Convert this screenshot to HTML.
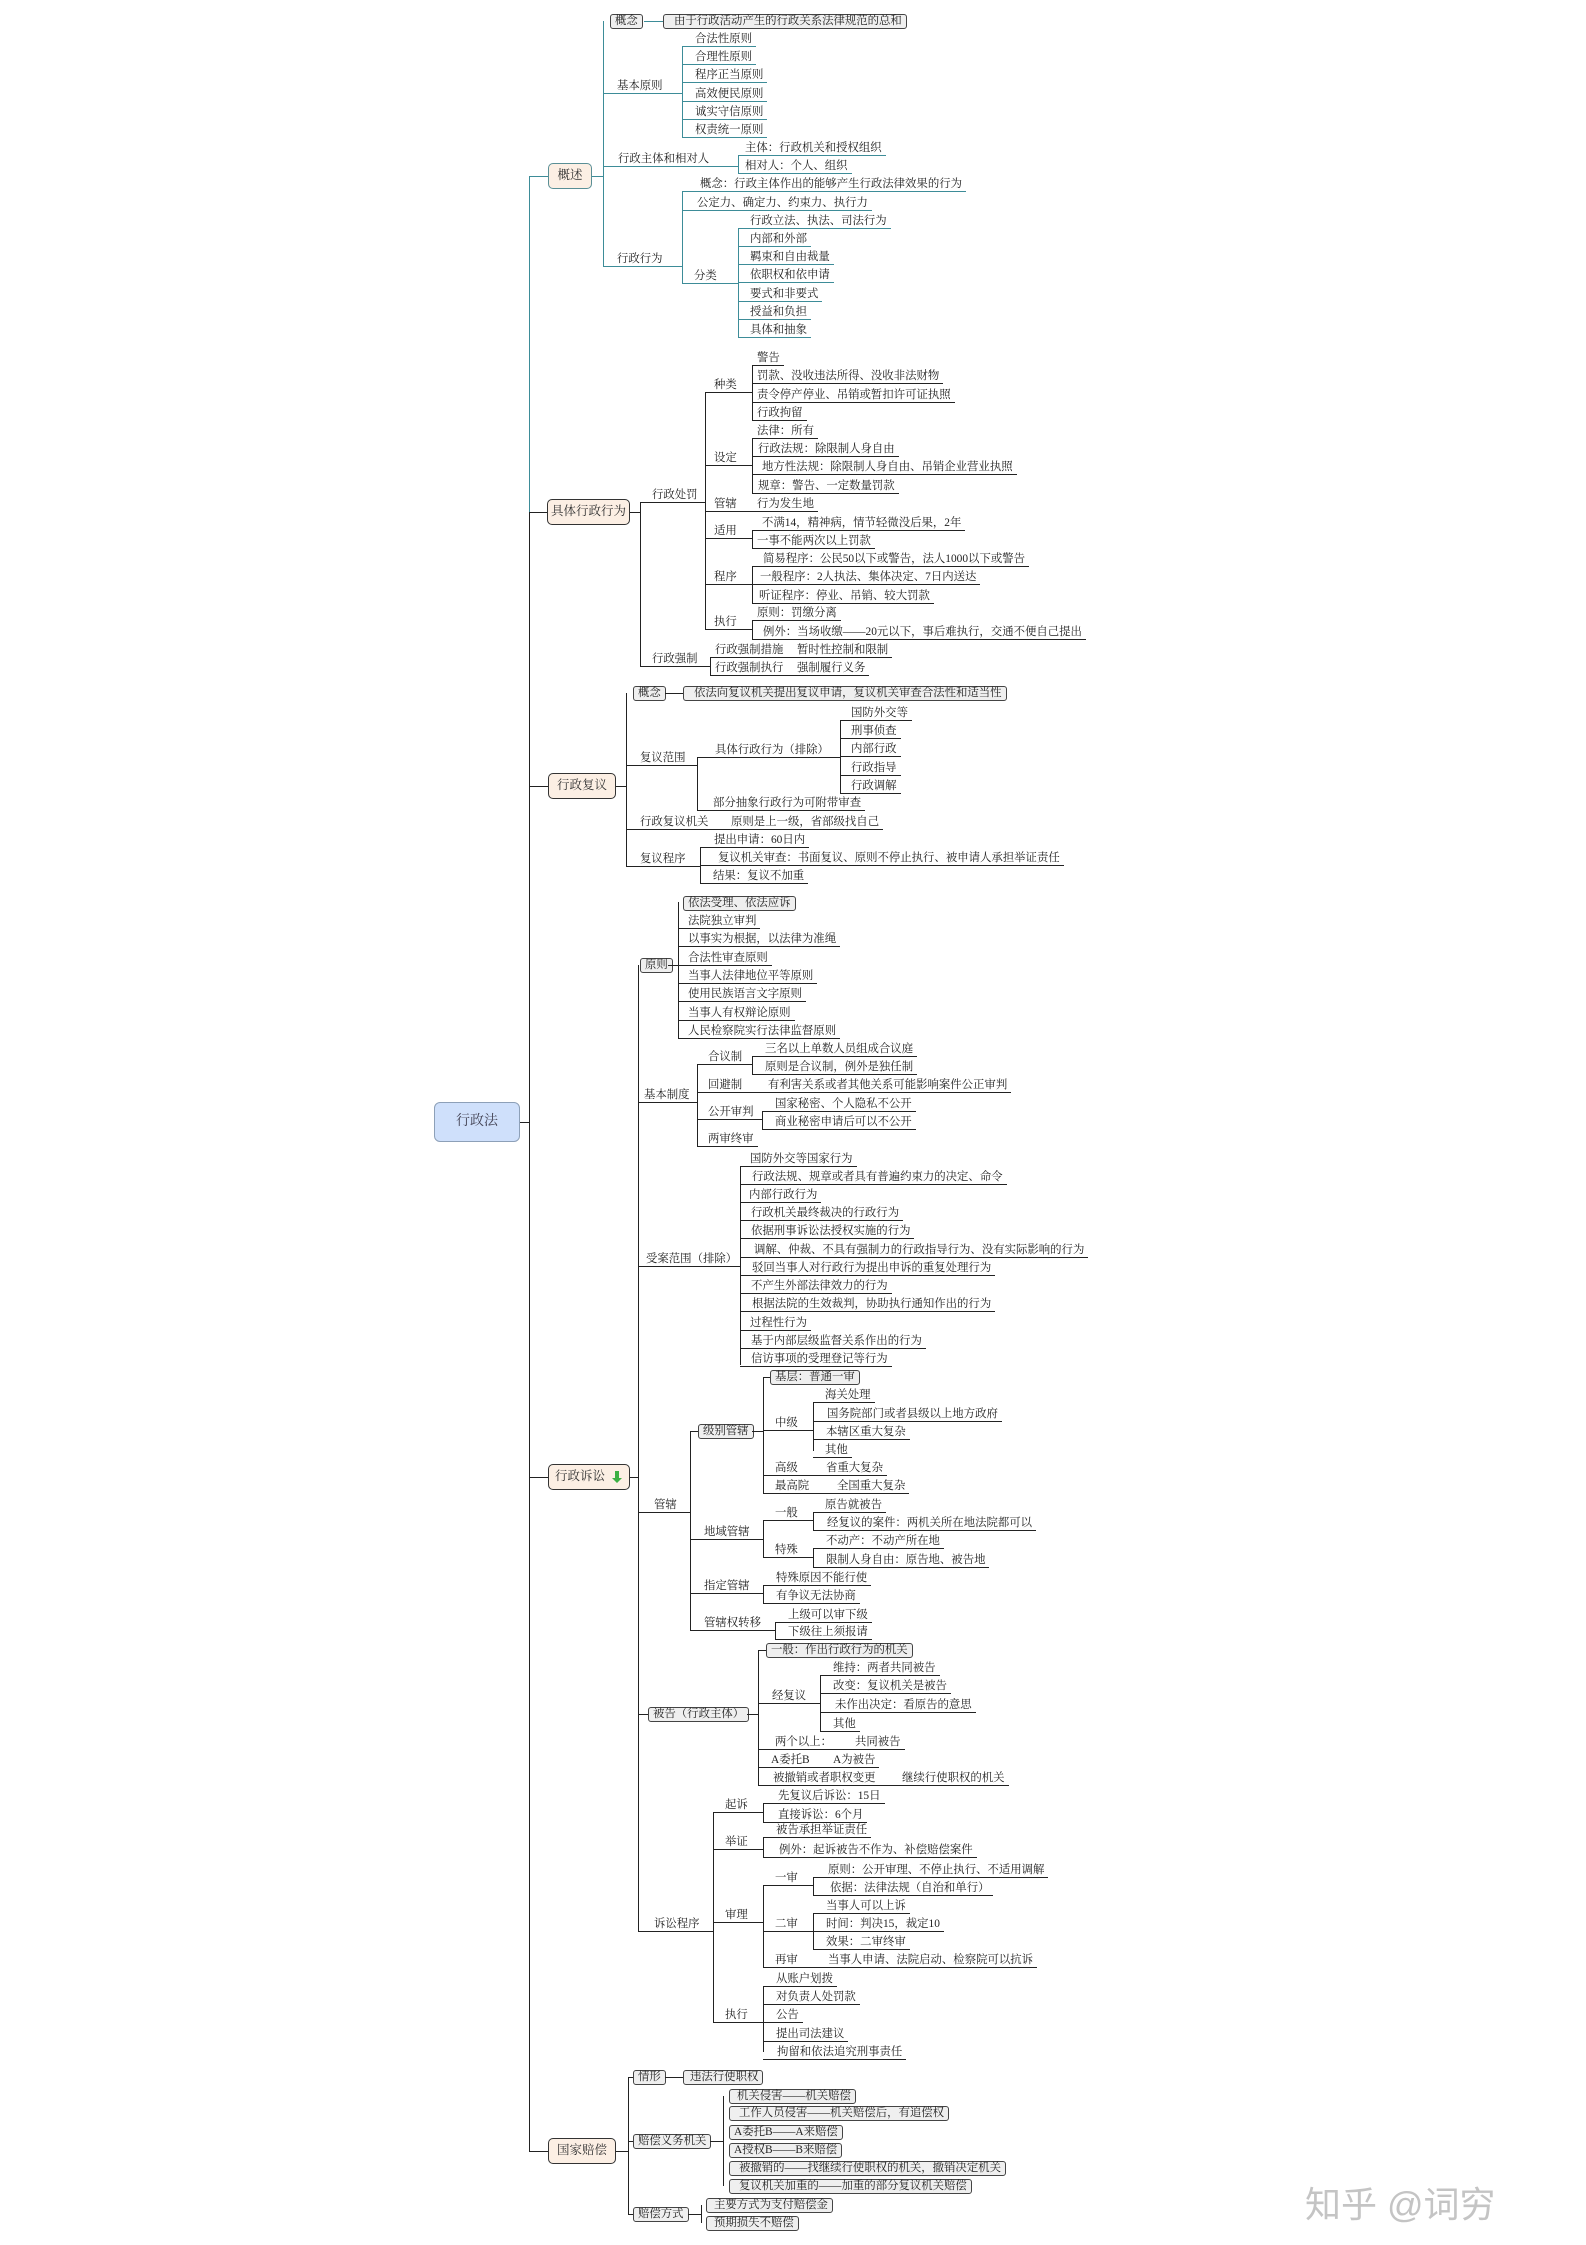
<!DOCTYPE html>
<html><head><meta charset="utf-8">
<style>
html,body{margin:0;padding:0;background:#fff}
#c{position:relative;width:1586px;height:2245px;overflow:hidden;font-family:"Liberation Serif","Noto Serif CJK SC","Noto Sans CJK SC",serif;color:#222}
.n{position:absolute;height:14px;line-height:13px;font-size:11.4px;border-bottom:1px solid #222;white-space:nowrap;padding-right:4px;box-sizing:border-box}
.t{border-color:#3d8c98}
.v{position:absolute;width:0;border-left:1px solid #222}
.vt{border-color:#3d8c98}
.h{position:absolute;height:0;border-top:1px solid #222}
.ht{border-color:#3d8c98}
.b{position:absolute;border:1px solid #444;border-radius:3px;background:#efefef;font-size:11.4px;height:15px;line-height:13px;padding:0 4px;white-space:nowrap;box-sizing:border-box;width:auto!important;overflow:visible}
.m{position:absolute;border:1.5px solid #333;border-radius:5px;background:#fcefe4;font-size:12.5px;line-height:23px;height:26px;padding:0;text-align:center;white-space:nowrap;box-sizing:border-box;color:#333}
.mt{border-color:#5a8f96}
</style></head><body><div id="c">

<!-- root -->
<div style="position:absolute;left:434px;top:1102px;width:86px;height:40px;background:#cfe0fb;border:1px solid #8da0b8;border-radius:6px;box-sizing:border-box;font-size:14px;line-height:38px;text-align:center;color:#445">行政法</div>
<div class="h" style="left:520px;top:1122px;width:9px"></div>
<div class="v" style="left:529px;top:512px;height:1639px"></div>
<div class="v vt" style="left:529px;top:176px;height:336px"></div>
<div class="h ht" style="left:529px;top:176px;width:19px"></div>
<div class="h" style="left:529px;top:512px;width:18px"></div>
<div class="h" style="left:529px;top:786px;width:19px"></div>
<div class="h" style="left:529px;top:1477px;width:19px"></div>
<div class="h" style="left:529px;top:2151px;width:19px"></div>

<!-- 概述 -->
<div class="m mt" style="left:548px;top:163px;width:44px">概述</div>
<div class="h ht" style="left:592px;top:176px;width:11px"></div>
<div class="v vt" style="left:603px;top:21px;height:245px"></div>
<div class="b" style="left:610px;top:14px;width:34px">概念</div>
<div class="h ht" style="left:644px;top:21px;width:19px"></div>
<div class="b" style="left:663px;top:14px;width:253px;padding-left:10px">由于行政活动产生的行政关系法律规范的总和</div>
<div class="n t" style="left:603px;top:80px;width:79px;padding-left:14px">基本原则</div>
<div class="v vt" style="left:682px;top:46px;height:92px"></div>
<div class="n t" style="left:682px;top:33px;padding-left:13px">合法性原则</div>
<div class="n t" style="left:682px;top:51px;padding-left:13px">合理性原则</div>
<div class="n t" style="left:682px;top:69px;padding-left:13px">程序正当原则</div>
<div class="n t" style="left:682px;top:88px;padding-left:13px">高效便民原则</div>
<div class="n t" style="left:682px;top:106px;padding-left:13px">诚实守信原则</div>
<div class="n t" style="left:682px;top:124px;padding-left:13px">权责统一原则</div>
<div class="n t" style="left:603px;top:153px;width:135px;padding-left:15px">行政主体和相对人</div>
<div class="v vt" style="left:738px;top:155px;height:18px"></div>
<div class="n t" style="left:738px;top:142px;padding-left:7px">主体：行政机关和授权组织</div>
<div class="n t" style="left:738px;top:160px;padding-left:7px">相对人：个人、组织</div>
<div class="n t" style="left:603px;top:253px;width:79px;padding-left:14px">行政行为</div>
<div class="v vt" style="left:682px;top:191px;height:92px"></div>
<div class="n t" style="left:682px;top:178px;padding-left:18px">概念：行政主体作出的能够产生行政法律效果的行为</div>
<div class="n t" style="left:682px;top:197px;padding-left:15px">公定力、确定力、约束力、执行力</div>
<div class="n t" style="left:682px;top:270px;width:56px;padding-left:12px">分类</div>
<div class="v vt" style="left:738px;top:228px;height:109px"></div>
<div class="n t" style="left:738px;top:215px;padding-left:12px">行政立法、执法、司法行为</div>
<div class="n t" style="left:738px;top:233px;padding-left:12px">内部和外部</div>
<div class="n t" style="left:738px;top:251px;padding-left:12px">羁束和自由裁量</div>
<div class="n t" style="left:738px;top:269px;padding-left:12px">依职权和依申请</div>
<div class="n t" style="left:738px;top:288px;padding-left:12px">要式和非要式</div>
<div class="n t" style="left:738px;top:306px;padding-left:12px">授益和负担</div>
<div class="n t" style="left:738px;top:324px;padding-left:12px">具体和抽象</div>

<!-- 具体行政行为 -->
<div class="m" style="left:547px;top:499px;width:83px">具体行政行为</div>
<div class="h" style="left:630px;top:512px;width:10px"></div>
<div class="v" style="left:640px;top:502px;height:164px"></div>
<div class="n" style="left:640px;top:489px;width:65px;padding-left:12px">行政处罚</div>
<div class="v" style="left:705px;top:392px;height:237px"></div>
<div class="n" style="left:705px;top:379px;width:47px;padding-left:9px">种类</div>
<div class="n" style="left:705px;top:452px;width:47px;padding-left:9px">设定</div>
<div class="n" style="left:705px;top:498px;width:47px;padding-left:9px">管辖</div>
<div class="n" style="left:752px;top:498px;padding-left:5px">行为发生地</div>
<div class="n" style="left:705px;top:525px;width:47px;padding-left:9px">适用</div>
<div class="n" style="left:705px;top:571px;width:47px;padding-left:9px">程序</div>
<div class="n" style="left:705px;top:616px;width:47px;padding-left:9px">执行</div>
<div class="v" style="left:752px;top:365px;height:55px"></div>
<div class="n" style="left:752px;top:352px;padding-left:5px">警告</div>
<div class="n" style="left:752px;top:370px;padding-left:5px">罚款、没收违法所得、没收非法财物</div>
<div class="n" style="left:752px;top:389px;padding-left:5px">责令停产停业、吊销或暂扣许可证执照</div>
<div class="n" style="left:752px;top:407px;padding-left:5px">行政拘留</div>
<div class="v" style="left:752px;top:438px;height:55px"></div>
<div class="n" style="left:752px;top:425px;padding-left:5px">法律：所有</div>
<div class="n" style="left:752px;top:443px;padding-left:6px">行政法规：除限制人身自由</div>
<div class="n" style="left:752px;top:461px;padding-left:10px">地方性法规：除限制人身自由、吊销企业营业执照</div>
<div class="n" style="left:752px;top:480px;padding-left:6px">规章：警告、一定数量罚款</div>
<div class="v" style="left:752px;top:530px;height:18px"></div>
<div class="n" style="left:752px;top:517px;padding-left:10px">不满14，精神病，情节轻微没后果，2年</div>
<div class="n" style="left:752px;top:535px;padding-left:5px">一事不能两次以上罚款</div>
<div class="v" style="left:752px;top:566px;height:37px"></div>
<div class="n" style="left:752px;top:553px;padding-left:11px">简易程序：公民50以下或警告，法人1000以下或警告</div>
<div class="n" style="left:752px;top:571px;padding-left:8px">一般程序：2人执法、集体决定、7日内送达</div>
<div class="n" style="left:752px;top:590px;padding-left:7px">听证程序：停业、吊销、较大罚款</div>
<div class="v" style="left:752px;top:620px;height:19px"></div>
<div class="n" style="left:752px;top:607px;padding-left:5px">原则：罚缴分离</div>
<div class="n" style="left:752px;top:626px;padding-left:11px">例外：当场收缴——20元以下，事后难执行，交通不便自己提出</div>
<div class="n" style="left:640px;top:653px;width:70px;padding-left:12px">行政强制</div>
<div class="v" style="left:710px;top:657px;height:18px"></div>
<div class="n" style="left:710px;top:644px;width:80px;padding-left:5px">行政强制措施</div>
<div class="n" style="left:790px;top:644px;padding-left:7px">暂时性控制和限制</div>
<div class="n" style="left:710px;top:662px;width:80px;padding-left:5px">行政强制执行</div>
<div class="n" style="left:790px;top:662px;padding-left:7px">强制履行义务</div>

<!-- 行政复议 -->
<div class="m" style="left:548px;top:773px;width:68px">行政复议</div>
<div class="h" style="left:616px;top:786px;width:10px"></div>
<div class="v" style="left:626px;top:693px;height:173px"></div>
<div class="b" style="left:633px;top:686px;width:32px">概念</div>
<div class="h" style="left:665px;top:693px;width:18px"></div>
<div class="b" style="left:683px;top:686px;width:315px;padding-left:10px">依法向复议机关提出复议申请，复议机关审查合法性和适当性</div>
<div class="n" style="left:626px;top:752px;width:71px;padding-left:14px">复议范围</div>
<div class="v" style="left:697px;top:757px;height:53px"></div>
<div class="n" style="left:697px;top:744px;width:143px;padding-left:18px">具体行政行为（排除）</div>
<div class="n" style="left:697px;top:797px;padding-left:16px">部分抽象行政行为可附带审查</div>
<div class="v" style="left:840px;top:720px;height:73px"></div>
<div class="n" style="left:840px;top:707px;padding-left:11px">国防外交等</div>
<div class="n" style="left:840px;top:725px;padding-left:11px">刑事侦查</div>
<div class="n" style="left:840px;top:743px;padding-left:11px">内部行政</div>
<div class="n" style="left:840px;top:762px;padding-left:11px">行政指导</div>
<div class="n" style="left:840px;top:780px;padding-left:11px">行政调解</div>
<div class="n" style="left:626px;top:816px;width:94px;padding-left:14px">行政复议机关</div>
<div class="n" style="left:720px;top:816px;padding-left:11px">原则是上一级，省部级找自己</div>
<div class="n" style="left:626px;top:853px;width:74px;padding-left:14px">复议程序</div>
<div class="v" style="left:700px;top:847px;height:36px"></div>
<div class="n" style="left:700px;top:834px;padding-left:14px">提出申请：60日内</div>
<div class="n" style="left:700px;top:852px;padding-left:18px">复议机关审查：书面复议、原则不停止执行、被申请人承担举证责任</div>
<div class="n" style="left:700px;top:870px;padding-left:13px">结果：复议不加重</div>

<!-- 行政诉讼 -->
<div class="m" style="left:548px;top:1464px;width:82px;text-align:left;padding-left:6px">行政诉讼<svg width="14" height="14" viewBox="0 0 14 14" style="position:absolute;left:63px;top:5px"><path d="M3 1 L3 8 L0 8 L5 13 L10 8 L7 8 L7 1 Z" fill="#3cb043"/></svg></div>
<div class="h" style="left:630px;top:1477px;width:8px"></div>
<div class="v" style="left:638px;top:965px;height:966px"></div>
<div class="b" style="left:640px;top:958px;width:28px">原则</div>
<div class="h" style="left:668px;top:965px;width:10px"></div>
<div class="v" style="left:678px;top:902px;height:136px"></div>
<div class="b" style="left:683px;top:896px;width:99px">依法受理、依法应诉</div>
<div class="n" style="left:678px;top:915px;padding-left:10px">法院独立审判</div>
<div class="n" style="left:678px;top:933px;padding-left:10px">以事实为根据，以法律为准绳</div>
<div class="n" style="left:678px;top:952px;padding-left:10px">合法性审查原则</div>
<div class="n" style="left:678px;top:970px;padding-left:10px">当事人法律地位平等原则</div>
<div class="n" style="left:678px;top:988px;padding-left:10px">使用民族语言文字原则</div>
<div class="n" style="left:678px;top:1007px;padding-left:10px">当事人有权辩论原则</div>
<div class="n" style="left:678px;top:1025px;padding-left:10px">人民检察院实行法律监督原则</div>
<div class="n" style="left:638px;top:1089px;width:59px;padding-left:6px">基本制度</div>
<div class="v" style="left:697px;top:1064px;height:83px"></div>
<div class="n" style="left:697px;top:1051px;width:55px;padding-left:11px">合议制</div>
<div class="v" style="left:752px;top:1056px;height:18px"></div>
<div class="n" style="left:752px;top:1043px;padding-left:13px">三名以上单数人员组成合议庭</div>
<div class="n" style="left:752px;top:1061px;padding-left:13px">原则是合议制，例外是独任制</div>
<div class="n" style="left:697px;top:1079px;width:63px;padding-left:11px">回避制</div>
<div class="n" style="left:760px;top:1079px;padding-left:8px">有利害关系或者其他关系可能影响案件公正审判</div>
<div class="n" style="left:697px;top:1106px;width:65px;padding-left:11px">公开审判</div>
<div class="v" style="left:762px;top:1111px;height:18px"></div>
<div class="n" style="left:762px;top:1098px;padding-left:13px">国家秘密、个人隐私不公开</div>
<div class="n" style="left:762px;top:1116px;padding-left:13px">商业秘密申请后可以不公开</div>
<div class="n" style="left:697px;top:1133px;padding-left:11px">两审终审</div>
<div class="n" style="left:638px;top:1253px;width:102px;padding-left:8px">受案范围（排除）</div>
<div class="v" style="left:740px;top:1166px;height:199px"></div>
<div class="n" style="left:740px;top:1153px;padding-left:10px">国防外交等国家行为</div>
<div class="n" style="left:740px;top:1171px;padding-left:12px">行政法规、规章或者具有普遍约束力的决定、命令</div>
<div class="n" style="left:740px;top:1189px;padding-left:9px">内部行政行为</div>
<div class="n" style="left:740px;top:1207px;padding-left:11px">行政机关最终裁决的行政行为</div>
<div class="n" style="left:740px;top:1225px;padding-left:11px">依据刑事诉讼法授权实施的行为</div>
<div class="n" style="left:740px;top:1244px;padding-left:14px">调解、仲裁、不具有强制力的行政指导行为、没有实际影响的行为</div>
<div class="n" style="left:740px;top:1262px;padding-left:12px">驳回当事人对行政行为提出申诉的重复处理行为</div>
<div class="n" style="left:740px;top:1280px;padding-left:11px">不产生外部法律效力的行为</div>
<div class="n" style="left:740px;top:1298px;padding-left:12px">根据法院的生效裁判，协助执行通知作出的行为</div>
<div class="n" style="left:740px;top:1317px;padding-left:10px">过程性行为</div>
<div class="n" style="left:740px;top:1335px;padding-left:11px">基于内部层级监督关系作出的行为</div>
<div class="n" style="left:740px;top:1353px;padding-left:11px">信访事项的受理登记等行为</div>
<div class="n" style="left:638px;top:1499px;width:52px;padding-left:16px">管辖</div>
<div class="v" style="left:690px;top:1431px;height:199px"></div>
<div class="b" style="left:698px;top:1424px;width:54px">级别管辖</div>
<div class="h" style="left:690px;top:1431px;width:8px"></div>
<div class="h" style="left:752px;top:1431px;width:11px"></div>
<div class="v" style="left:763px;top:1377px;height:116px"></div>
<div class="b" style="left:770px;top:1370px;width:88px">基层：普通一审</div>
<div class="h" style="left:763px;top:1377px;width:7px"></div>
<div class="n" style="left:763px;top:1417px;width:50px;padding-left:12px">中级</div>
<div class="v" style="left:813px;top:1402px;height:49px"></div>
<div class="n" style="left:813px;top:1389px;padding-left:12px">海关处理</div>
<div class="n" style="left:813px;top:1408px;padding-left:14px">国务院部门或者县级以上地方政府</div>
<div class="n" style="left:813px;top:1426px;padding-left:13px">本辖区重大复杂</div>
<div class="n" style="left:813px;top:1444px;padding-left:12px">其他</div>
<div class="n" style="left:763px;top:1462px;width:54px;padding-left:12px">高级</div>
<div class="n" style="left:817px;top:1462px;padding-left:9px">省重大复杂</div>
<div class="n" style="left:763px;top:1480px;width:67px;padding-left:12px">最高院</div>
<div class="n" style="left:830px;top:1480px;padding-left:7px">全国重大复杂</div>
<div class="n" style="left:690px;top:1526px;width:73px;padding-left:14px">地域管辖</div>
<div class="v" style="left:763px;top:1520px;height:37px"></div>
<div class="n" style="left:763px;top:1507px;width:50px;padding-left:12px">一般</div>
<div class="v" style="left:813px;top:1512px;height:18px"></div>
<div class="n" style="left:813px;top:1499px;padding-left:12px">原告就被告</div>
<div class="n" style="left:813px;top:1517px;padding-left:14px">经复议的案件：两机关所在地法院都可以</div>
<div class="n" style="left:763px;top:1544px;width:50px;padding-left:12px">特殊</div>
<div class="v" style="left:813px;top:1548px;height:19px"></div>
<div class="n" style="left:813px;top:1535px;padding-left:13px">不动产：不动产所在地</div>
<div class="n" style="left:813px;top:1554px;padding-left:13px">限制人身自由：原告地、被告地</div>
<div class="n" style="left:690px;top:1580px;width:73px;padding-left:14px">指定管辖</div>
<div class="v" style="left:763px;top:1585px;height:18px"></div>
<div class="n" style="left:763px;top:1572px;padding-left:13px">特殊原因不能行使</div>
<div class="n" style="left:763px;top:1590px;padding-left:13px">有争议无法协商</div>
<div class="n" style="left:690px;top:1617px;width:85px;padding-left:14px">管辖权转移</div>
<div class="v" style="left:775px;top:1622px;height:17px"></div>
<div class="n" style="left:775px;top:1609px;padding-left:13px">上级可以审下级</div>
<div class="n" style="left:775px;top:1626px;padding-left:13px">下级往上须报请</div>
<div class="b" style="left:648px;top:1707px;width:99px">被告（行政主体）</div>
<div class="h" style="left:638px;top:1714px;width:10px"></div>
<div class="h" style="left:747px;top:1714px;width:11px"></div>
<div class="v" style="left:758px;top:1650px;height:135px"></div>
<div class="b" style="left:766px;top:1643px;width:144px">一般：作出行政行为的机关</div>
<div class="h" style="left:758px;top:1650px;width:8px"></div>
<div class="n" style="left:758px;top:1690px;width:62px;padding-left:14px">经复议</div>
<div class="v" style="left:820px;top:1675px;height:56px"></div>
<div class="n" style="left:820px;top:1662px;padding-left:13px">维持：两者共同被告</div>
<div class="n" style="left:820px;top:1680px;padding-left:13px">改变：复议机关是被告</div>
<div class="n" style="left:820px;top:1699px;padding-left:15px">未作出决定：看原告的意思</div>
<div class="n" style="left:820px;top:1718px;padding-left:13px">其他</div>
<div class="n" style="left:758px;top:1736px;width:72px;padding-left:17px">两个以上：</div>
<div class="n" style="left:830px;top:1736px;padding-left:25px">共同被告</div>
<div class="n" style="left:758px;top:1754px;width:62px;padding-left:13px">A委托B</div>
<div class="n" style="left:820px;top:1754px;padding-left:13px">A为被告</div>
<div class="n" style="left:758px;top:1772px;width:122px;padding-left:15px">被撤销或者职权变更</div>
<div class="n" style="left:880px;top:1772px;padding-left:22px">继续行使职权的机关</div>
<div class="n" style="left:638px;top:1918px;width:75px;padding-left:16px">诉讼程序</div>
<div class="v" style="left:713px;top:1812px;height:210px"></div>
<div class="n" style="left:713px;top:1799px;width:50px;padding-left:12px">起诉</div>
<div class="v" style="left:763px;top:1803px;height:19px"></div>
<div class="n" style="left:763px;top:1790px;padding-left:15px">先复议后诉讼：15日</div>
<div class="n" style="left:763px;top:1809px;padding-left:15px">直接诉讼：6个月</div>
<div class="n" style="left:713px;top:1836px;width:50px;padding-left:12px">举证</div>
<div class="v" style="left:763px;top:1837px;height:20px"></div>
<div class="n" style="left:763px;top:1824px;padding-left:13px">被告承担举证责任</div>
<div class="n" style="left:763px;top:1844px;padding-left:16px">例外：起诉被告不作为、补偿赔偿案件</div>
<div class="n" style="left:713px;top:1909px;width:50px;padding-left:12px">审理</div>
<div class="v" style="left:763px;top:1885px;height:82px"></div>
<div class="n" style="left:763px;top:1872px;width:50px;padding-left:12px">一审</div>
<div class="v" style="left:813px;top:1877px;height:18px"></div>
<div class="n" style="left:813px;top:1864px;padding-left:15px">原则：公开审理、不停止执行、不适用调解</div>
<div class="n" style="left:813px;top:1882px;padding-left:17px">依据：法律法规（自治和单行）</div>
<div class="n" style="left:763px;top:1918px;width:50px;padding-left:12px">二审</div>
<div class="v" style="left:813px;top:1913px;height:36px"></div>
<div class="n" style="left:813px;top:1900px;padding-left:13px">当事人可以上诉</div>
<div class="n" style="left:813px;top:1918px;padding-left:13px">时间：判决15，裁定10</div>
<div class="n" style="left:813px;top:1936px;padding-left:13px">效果：二审终审</div>
<div class="n" style="left:763px;top:1954px;width:57px;padding-left:12px">再审</div>
<div class="n" style="left:820px;top:1954px;padding-left:8px">当事人申请、法院启动、检察院可以抗诉</div>
<div class="n" style="left:713px;top:2009px;width:50px;padding-left:12px">执行</div>
<div class="v" style="left:763px;top:1986px;height:66px"></div>
<div class="n" style="left:763px;top:1973px;padding-left:13px">从账户划拨</div>
<div class="n" style="left:763px;top:1991px;padding-left:13px">对负责人处罚款</div>
<div class="n" style="left:763px;top:2009px;padding-left:13px">公告</div>
<div class="n" style="left:763px;top:2028px;padding-left:13px">提出司法建议</div>
<div class="n" style="left:763px;top:2046px;padding-left:14px">拘留和依法追究刑事责任</div>

<!-- 国家赔偿 -->
<div class="m" style="left:548px;top:2138px;width:68px">国家赔偿</div>
<div class="h" style="left:616px;top:2151px;width:12px"></div>
<div class="v" style="left:628px;top:2077px;height:137px"></div>
<div class="b" style="left:633px;top:2070px;width:32px">情形</div>
<div class="h" style="left:628px;top:2077px;width:5px"></div>
<div class="h" style="left:665px;top:2077px;width:18px"></div>
<div class="b" style="left:683px;top:2070px;width:77px;padding-left:6px">违法行使职权</div>
<div class="b" style="left:633px;top:2134px;width:77px">赔偿义务机关</div>
<div class="h" style="left:628px;top:2141px;width:5px"></div>
<div class="h" style="left:710px;top:2141px;width:13px"></div>
<div class="v" style="left:723px;top:2096px;height:90px"></div>
<div class="b" style="left:729px;top:2089px;width:121px;padding-left:7px">机关侵害——机关赔偿</div>
<div class="b" style="left:729px;top:2106px;width:212px;padding-left:9px">工作人员侵害——机关赔偿后，有追偿权</div>
<div class="b" style="left:729px;top:2125px;width:107px">A委托B——A来赔偿</div>
<div class="b" style="left:729px;top:2143px;width:107px">A授权B——B来赔偿</div>
<div class="b" style="left:729px;top:2161px;width:269px;padding-left:9px">被撤销的——找继续行使职权的机关，撤销决定机关</div>
<div class="b" style="left:729px;top:2179px;width:235px;padding-left:9px">复议机关加重的——加重的部分复议机关赔偿</div>
<div class="b" style="left:633px;top:2207px;width:55px">赔偿方式</div>
<div class="h" style="left:628px;top:2214px;width:5px"></div>
<div class="h" style="left:688px;top:2214px;width:13px"></div>
<div class="v" style="left:701px;top:2205px;height:18px"></div>
<div class="b" style="left:706px;top:2198px;width:121px;padding-left:7px">主要方式为支付赔偿金</div>
<div class="b" style="left:706px;top:2216px;width:87px;padding-left:7px">预期损失不赔偿</div>

<!-- watermark -->
<div style="position:absolute;left:1305px;top:2176px;font-family:'Liberation Sans','Noto Sans CJK SC',sans-serif;font-size:36px;color:#c4c4c4;white-space:nowrap">知乎 @词穷</div>
</div></body></html>
